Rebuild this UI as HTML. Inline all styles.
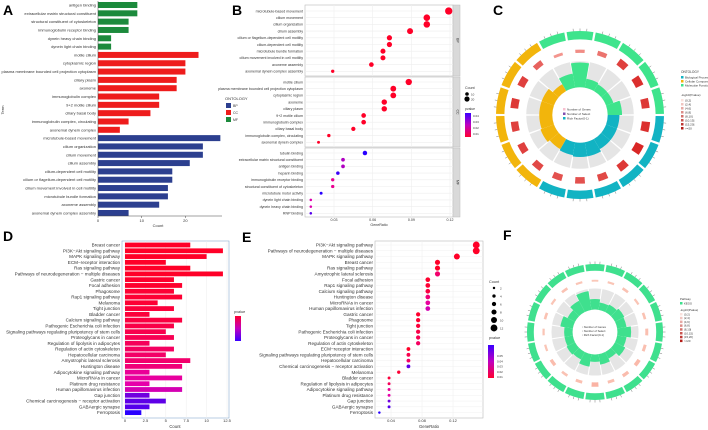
<!DOCTYPE html>
<html><head><meta charset="utf-8">
<style>
html,body{margin:0;padding:0;background:#fff;}
svg{display:block;font-family:"Liberation Sans",sans-serif;}
</style></head>
<body>
<svg id="fig" width="708" height="430" viewBox="0 0 708 430" xmlns="http://www.w3.org/2000/svg">
<text x="3" y="15" font-size="14" font-weight="bold">A</text>
<text x="232" y="15" font-size="14" font-weight="bold">B</text>
<text x="493" y="15" font-size="14" font-weight="bold">C</text>
<text x="3" y="241" font-size="14" font-weight="bold">D</text>
<text x="242" y="242" font-size="14" font-weight="bold">E</text>
<text x="503" y="240" font-size="14" font-weight="bold">F</text>
</svg>
<script>
// ---------- Panel A data ----------
const aTerms=["antigen binding","extracellular matrix structural constituent","structural constituent of cytoskeleton","immunoglobulin receptor binding","dynein heavy chain binding","dynein light chain binding","motile cilium","cytoplasmic region","plasma membrane bounded cell projection cytoplasm","ciliary plasm","axoneme","immunoglobulin complex","9+2 motile cilium","ciliary basal body","immunoglobulin complex, circulating","axonemal dynein complex","microtubule-based movement","cilium organization","cilium movement","cilium assembly","cilium-dependent cell motility","cilium or flagellum-dependent cell motility","cilium movement involved in cell motility","microtubule bundle formation","axoneme assembly","axonemal dynein complex assembly"];
const aCounts=[9,9,7,7,3,3,23,20,20,18,18,14,14,12,7,5,28,24,24,21,17,17,16,16,14,7];
const aOnt=["MF","MF","MF","MF","MF","MF","CC","CC","CC","CC","CC","CC","CC","CC","CC","CC","BP","BP","BP","BP","BP","BP","BP","BP","BP","BP"];
const aTicks=[0,10,20];
// ---------- Panel B data ----------
const bTerms=["microtubule-based movement","cilium movement","cilium organization","cilium assembly","cilium or flagellum-dependent cell motility","cilium-dependent cell motility","microtubule bundle formation","cilium movement involved in cell motility","axoneme assembly","axonemal dynein complex assembly","motile cilium","plasma membrane bounded cell projection cytoplasm","cytoplasmic region","axoneme","ciliary plasm","9+2 motile cilium","immunoglobulin complex","ciliary basal body","immunoglobulin complex, circulating","axonemal dynein complex","tubulin binding","extracellular matrix structural constituent","antigen binding","heparin binding","immunoglobulin receptor binding","structural constituent of cytoskeleton","microtubule motor activity","dynein light chain binding","dynein heavy chain binding","RNP binding"];
const bRatio=[0.119,0.102,0.102,0.089,0.073,0.073,0.068,0.068,0.059,0.029,0.088,0.076,0.076,0.069,0.069,0.053,0.053,0.045,0.026,0.018,0.054,0.037,0.037,0.033,0.029,0.029,0.020,0.012,0.012,0.012];
const bCount=[28,24,24,21,17,17,16,16,14,7,23,20,20,18,18,14,14,12,7,5,13,9,9,8,7,7,5,3,3,3];
const bP=[0.005,0.005,0.005,0.005,0.005,0.005,0.005,0.005,0.005,0.008,0.005,0.005,0.005,0.005,0.005,0.005,0.005,0.005,0.008,0.008,0.05,0.035,0.035,0.048,0.025,0.025,0.05,0.03,0.03,0.045];
const bFacet=["BP","CC","MF"];
const bTicks=[0.03,0.06,0.09,0.12];
// ---------- Panel D / E data ----------
const dTerms=["Breast cancer","PI3K−Akt signaling pathway","MAPK signaling pathway","ECM−receptor interaction","Ras signaling pathway","Pathways of neurodegeneration − multiple diseases","Gastric cancer","Focal adhesion","Phagosome","Rap1 signaling pathway","Melanoma","Tight junction","Bladder cancer","Calcium signaling pathway","Pathogenic Escherichia coli infection","Signaling pathways regulating pluripotency of stem cells","Proteoglycans in cancer","Regulation of lipolysis in adipocytes","Regulation of actin cytoskeleton","Hepatocellular carcinoma","Amyotrophic lateral sclerosis","Huntington disease","Adipocytokine signaling pathway","MicroRNAs in cancer","Platinum drug resistance","Human papillomavirus infection","Gap junction","Chemical carcinogenesis − receptor activation","GABAergic synapse","Ferroptosis"];
const dCounts=[8,12,10,5,8,12,6,7,6,7,4,6,3,7,6,5,6,3,6,5,8,7,3,7,3,7,3,5,3,2];
const dP=[0.004,0.006,0.006,0.008,0.008,0.008,0.009,0.009,0.010,0.010,0.010,0.011,0.011,0.012,0.013,0.014,0.015,0.016,0.017,0.018,0.019,0.021,0.026,0.027,0.029,0.031,0.042,0.044,0.045,0.05];
const dTicks=[0,2.5,5,7.5,10,12.5];
const eTerms=["PI3K−Akt signaling pathway","Pathways of neurodegeneration − multiple diseases","MAPK signaling pathway","Breast cancer","Ras signaling pathway","Amyotrophic lateral sclerosis","Focal adhesion","Rap1 signaling pathway","Calcium signaling pathway","Huntington disease","MicroRNAs in cancer","Human papillomavirus infection","Gastric cancer","Phagosome","Tight junction","Pathogenic Escherichia coli infection","Proteoglycans in cancer","Regulation of actin cytoskeleton","ECM−receptor interaction","Signaling pathways regulating pluripotency of stem cells","Hepatocellular carcinoma","Chemical carcinogenesis − receptor activation","Melanoma","Bladder cancer","Regulation of lipolysis in adipocytes","Adipocytokine signaling pathway","Platinum drug resistance","Gap junction","GABAergic synapse","Ferroptosis"];
const eRatio=[0.150,0.150,0.125,0.100,0.100,0.100,0.0875,0.0875,0.0875,0.0875,0.0875,0.0875,0.075,0.075,0.075,0.075,0.075,0.075,0.0625,0.0625,0.0625,0.0625,0.05,0.0375,0.0375,0.0375,0.0375,0.0375,0.0375,0.025];
const eTicks=[0.04,0.08,0.12];
// ---------- Circle plots data ----------
const cOnt=["MF","MF","MF","MF","MF","MF","BP","BP","BP","BP","BP","BP","CC","CC","CC","CC","CC","CC"];
const cBar=[0.55,0.95,0.35,0.3,0.3,0.55,0.45,0.45,0.45,0.55,0.55,0.5,0.45,0.55,0.5,0.5,0.5,0.3];
const cRect=[0.3,0.35,0.5,0.8,0.9,0.85,0.9,0.95,0.85,0.75,0.7,0.7,0.75,0.8,0.8,0.85,0.8,0.6];
const fBar=[0.5,0.35,0.4,0.5,0.45,0.65,0.45,0.55,0.35,0.5,0.35,0.6,0.4,0.45,0.4,0.4,0.6,0.4,0.6,0.9];
const fRect=[0.25,0.3,0.35,0.3,0.35,0.4,0.4,0.5,0.45,0.4,0.6,0.4,0.35,0.45,0.3,0.3,0.35,0.3,0.35,0.3];

const NS='http://www.w3.org/2000/svg';
const svg=document.getElementById('fig');
function mk(tag,attrs,parent){const e=document.createElementNS(NS,tag);for(const k in attrs)e.setAttribute(k,attrs[k]);(parent||svg).appendChild(e);return e;}
function txt(x,y,s,size,anchor,parent,extra){const t=mk('text',Object.assign({x:x,y:y,'font-size':size,'text-anchor':anchor||'start',fill:'#333'},extra||{}),parent);t.textContent=s;return t;}
function pcol(p){
 let t=Math.max(0,Math.min(1,(p-0.008)/0.042));
 let r,b;
 if(t<0.5){const u=t/0.5;r=255-25*u;b=40+130*u;}else{const u=(t-0.5)/0.5;r=230-190*u;b=170+85*u;}
 return 'rgb('+Math.round(r)+',0,'+Math.round(b)+')';
}
const ontCol={BP:'#2c3f8f',CC:'#ee1c1c',MF:'#1c8a3c'};

// ===== Panel A =====
(function(){
 const g=mk('g',{});
 
 
 const x0=98,sx=4.37,y0=5,dy=8.32;
 const xs=v=>x0+v*sx, ys=i=>y0+i*dy;
 aTerms.forEach((t,i)=>{
  const r=mk('rect',{x:x0,y:ys(i)-3,width:xs(aCounts[i])-x0,height:6,fill:ontCol[aOnt[i]]},g);
  
  
  const l=txt(x0-2,ys(i)+1.5,t,4,'end',g);
  
  
 });
 mk('line',{x1:x0,y1:1,x2:x0,y2:216,stroke:'#444','stroke-width':0.5},g);
 mk('line',{x1:x0,y1:216,x2:222,y2:216,stroke:'#444','stroke-width':0.5},g);
 aTicks.forEach(v=>{mk('line',{x1:xs(v),y1:216,x2:xs(v),y2:218,stroke:'#444','stroke-width':0.5},g);const t=txt(xs(v),222,String(v),4,'middle',g);});
 const xt=txt(158,227,'Count',4,'middle',g);
 
 
 const yt=txt(4,110,'Term',4,'middle',g,{transform:'rotate(-90 4 110)'});
 
 
 const lg=mk('g',{},g);
 
 
 txt(225,100,'ONTOLOGY',4,'start',lg);
 ['BP','CC','MF'].forEach((o,i)=>{mk('rect',{x:226,y:103+i*7,width:5,height:5,fill:ontCol[o]},lg);txt(233,107+i*7,o,3.5,'start',lg);});
})();

// ===== Panel B =====
(function(){
 const g=mk('g',{});
 
 
 const px0=305,px1=453;
 const xs=v=>334+(v-0.03)*(116/0.09);
 const facets=[[5,76],[77,147],[148,217]];
 facets.forEach((f,k)=>{
  mk('rect',{x:px0,y:f[0],width:px1-px0,height:f[1]-f[0],fill:'#fff',stroke:'#bbb','stroke-width':0.6},g);
  bTicks.forEach(v=>mk('line',{x1:xs(v),y1:f[0],x2:xs(v),y2:f[1],stroke:'#eee','stroke-width':0.6},g));
  const s=mk('rect',{x:px1,y:f[0],width:7,height:f[1]-f[0],fill:'#d9d9d9',stroke:'#bbb','stroke-width':0.5},g);
  
  
  txt(px1+3.5,(f[0]+f[1])/2,bFacet[k],3.5,'middle',g,{transform:'rotate(90 '+(px1+3.5)+' '+((f[0]+f[1])/2)+')'});
 });
 const rowY=i=>{const k=Math.floor(i/10),j=i%10;return [11,82,153][k]+j*6.7;};
 bTerms.forEach((t,i)=>{
  const y=rowY(i);
  mk('line',{x1:px0,y1:y,x2:px1,y2:y,stroke:'#eee','stroke-width':0.6},g);
  const c=mk('circle',{cx:xs(bRatio[i]),cy:y,r:1+bCount[i]*0.095,fill:pcol(bP[i])},g);
  
  
  const l=txt(px0-2,y+1.3,t,3.6,'end',g);
  
  
 });
 bTicks.forEach(v=>{const t=txt(xs(v),221,v.toFixed(2),3.6,'middle',g);});
 const xt=txt(379,226,'GeneRatio',3.6,'middle',g);
 
 
 const lg=mk('g',{},g);
 
 
 txt(465,89,'Count',3.6,'start',lg);
 mk('circle',{cx:467,cy:94,r:1.8,fill:'#000'},lg);txt(471,95.5,'10',3,'start',lg);
 mk('circle',{cx:467,cy:99,r:2.6,fill:'#000'},lg);txt(471,100.5,'20',3,'start',lg);
 txt(465,110,'pvalue',3.4,'start',lg);
 const gr=mk('linearGradient',{id:'gB',x1:0,y1:0,x2:0,y2:1},mk('defs',{},lg));
 mk('stop',{offset:0,'stop-color':'#3a00ff'},gr);mk('stop',{offset:0.5,'stop-color':'#c000c0'},gr);mk('stop',{offset:1,'stop-color':'#ff0030'},gr);
 mk('rect',{x:465,y:113,width:6,height:24,fill:'url(#gB)'},lg);
 ['0.04','0.03','0.02','0.01'].forEach((s,i)=>txt(473,117+i*6,s,3,'start',lg));
})();

// ===== Panel D =====
(function(){
 const g=mk('g',{});
 
 
 const x0=125,sx=102/12.5,y0=245,dy=5.78;
 const xs=v=>x0+v*sx, ys=i=>y0+i*dy;
 mk('rect',{x:122,y:241,width:107,height:177,fill:'#fff',stroke:'#8aaed0','stroke-width':0.6},g);
 dTicks.forEach(v=>mk('line',{x1:xs(v),y1:241,x2:xs(v),y2:418,stroke:'#eee','stroke-width':0.5},g));
 dTerms.forEach((t,i)=>{
  const r=mk('rect',{x:x0,y:ys(i)-2.4,width:xs(dCounts[i])-x0,height:4.8,fill:pcol(dP[i])},g);
  
  
  const l=txt(120,ys(i)+1.6,t,4.6,'end',g);
  
  
 });
 dTicks.forEach(v=>{const t=txt(xs(v),422,String(v),4,'middle',g);});
 const xt=txt(175,428,'Count',4.2,'middle',g);
 
 
 const lg=mk('g',{},g);
 
 
 txt(234,313,'pvalue',3.8,'start',lg);
 const gr=mk('linearGradient',{id:'gD',x1:0,y1:0,x2:0,y2:1},mk('defs',{},lg));
 mk('stop',{offset:0,'stop-color':'#ff0030'},gr);mk('stop',{offset:0.5,'stop-color':'#c000c0'},gr);mk('stop',{offset:1,'stop-color':'#3a00ff'},gr);
 mk('rect',{x:235,y:316,width:6,height:25,fill:'url(#gD)'},lg);
})();

// ===== Panel E =====
(function(){
 const g=mk('g',{});
 
 
 const xs=v=>391+(v-0.04)*(62/0.08);
 const y0=245,dy=5.78, ys=i=>y0+i*dy;
 mk('rect',{x:375,y:241,width:108,height:177,fill:'#fff',stroke:'#bbb','stroke-width':0.6},g);
 eTicks.forEach(v=>mk('line',{x1:xs(v),y1:241,x2:xs(v),y2:418,stroke:'#eee','stroke-width':0.5},g));
 eTerms.forEach((t,i)=>{
  const k=dTerms.indexOf(t);
  const cnt=dCounts[k], p=dP[k];
  mk('line',{x1:375,y1:ys(i),x2:483,y2:ys(i),stroke:'#f0f0f0','stroke-width':0.5},g);
  const c=mk('circle',{cx:xs(eRatio[i]),cy:ys(i),r:0.8+cnt*0.22,fill:pcol(p)},g);
  
  
  const l=txt(373,ys(i)+1.6,t,4.6,'end',g);
  
  
 });
 eTicks.forEach(v=>{const t=txt(xs(v),422,v.toFixed(2),4,'middle',g);});
 const xt=txt(429,428,'GeneRatio',4.2,'middle',g);
 
 
 const lg=mk('g',{},g);
 
 
 txt(489,283,'Count',3.8,'start',lg);
 [2,4,6,8,10,12].forEach((v,i)=>{mk('circle',{cx:494,cy:288+i*8,r:0.8+v*0.22,fill:'#000'},lg);txt(500,289.5+i*8,String(v),3,'start',lg);});
 txt(489,339,'pvalue',3.8,'start',lg);
 const gr=mk('linearGradient',{id:'gE',x1:0,y1:0,x2:0,y2:1},mk('defs',{},lg));
 mk('stop',{offset:0,'stop-color':'#3a00ff'},gr);mk('stop',{offset:0.5,'stop-color':'#c000c0'},gr);mk('stop',{offset:1,'stop-color':'#ff0030'},gr);
 mk('rect',{x:488,y:345,width:6,height:33,fill:'url(#gE)'},lg);
 ['0.05','0.04','0.03','0.02','0.01'].forEach((s,i)=>txt(497,357+i*5.3,s,3,'start',lg));
})();

// ===== Circle plots =====
function arc(cx,cy,r0,r1,a0,a1){
 const p=(r,a)=>[cx+r*Math.sin(a*Math.PI/180),cy-r*Math.cos(a*Math.PI/180)];
 const [x1,y1]=p(r1,a0),[x2,y2]=p(r1,a1),[x3,y3]=p(r0,a1),[x4,y4]=p(r0,a0);
 const lf=(a1-a0)>180?1:0;
 return 'M'+x1+' '+y1+' A'+r1+' '+r1+' 0 '+lf+' 1 '+x2+' '+y2+' L'+x3+' '+y3+' A'+r0+' '+r0+' 0 '+lf+' 0 '+x4+' '+y4+'Z';
}
function circlePlot(name,cx,cy,R,n,start,colors,bars,rects,rectCol){
 const g=mk('g',{});
 
 
 const step=360/n, ri=R*0.33, rg=R*0.64;
 for(let i=0;i<n;i++){
  const a0=start+i*step+0.8,a1=start+(i+1)*step-0.8;
  const s=mk('path',{d:arc(cx,cy,R*0.9,R,a0,a1),fill:colors[i]},g);
  
  
  for(let k=1;k<4;k++){const a=(a0+(a1-a0)*k/4)*Math.PI/180;mk('line',{x1:cx+R*Math.sin(a),y1:cy-R*Math.cos(a),x2:cx+(R+2.5)*Math.sin(a),y2:cy-(R+2.5)*Math.cos(a),stroke:'#555','stroke-width':0.4},g);}
  const rr=mk('path',{d:arc(cx,cy,R*0.74,R*0.74+R*0.11*rects[i],a0+step*0.25,a1-step*0.25),fill:rectCol(rects[i])},g);
  
  
  mk('path',{d:arc(cx,cy,ri,rg,a0,a1),fill:'#e5e5e5'},g);
  const b=mk('path',{d:arc(cx,cy,ri,ri+(rg-ri)*bars[i],a0-0.8,a1+0.8),fill:colors[i]},g);
  
  
 }
 return g;
}
const oc={MF:'#3ee48c',BP:'#12b3c3',CC:'#f2b50c'};
const gc=circlePlot('go-circle-plot',580,115,84,18,-30,cOnt.map(o=>oc[o]),cBar,cRect,v=>'rgb('+Math.round(255-40*v)+','+Math.round(200-170*v)+','+Math.round(190-160*v)+')');
['Number of Genes','Number of Select','Rich Factor(0-1)'].forEach((s,i)=>{mk('rect',{x:563,y:108+i*4.5,width:2.5,height:2.5,fill:['#f8c0d0','#8050b0','#12b3c3'][i]},gc);txt(567,110.3+i*4.5,s,3,'start',gc);});
(function(){
 const lg=mk('g',{});
 
 
 txt(681,73,'ONTOLOGY',3.2,'start',lg);
 [['Biological Process',oc.BP],['Cellular Component',oc.CC],['Molecular Function',oc.MF]].forEach((e,i)=>{mk('rect',{x:681,y:76+i*4,width:2.5,height:2.5,fill:e[1]},lg);txt(685,78.3+i*4,e[0],3,'start',lg);});
 txt(681,96,'-log10(Pvalue)',3,'start',lg);
 ['(0,2]','(2,4]','(4,6]','(6,8]','(8,10]','(10,15]','(15,20]','>=20'].forEach((s,i)=>{mk('rect',{x:681,y:99+i*4,width:2.5,height:2.5,fill:'rgb('+(250-i*10)+','+(225-i*28)+','+(220-i*28)+')'},lg);txt(685,101.3+i*4,s,3,'start',lg);});
})();
const fc=new Array(20).fill('#3fe08e');
const gf=circlePlot('kegg-circle-plot',595,332,68,20,-9,fc,fBar,fRect,v=>'rgb(250,'+Math.round(215-60*v)+','+Math.round(200-60*v)+')');
['Number of Genes','Number of Select','Rich Factor(0-1)'].forEach((s,i)=>txt(582,328+i*4,'▫ '+s,2.8,'start',gf));
(function(){
 const lg=mk('g',{});
 
 
 txt(680,300,'Pathway',2.8,'start',lg);
 mk('rect',{x:680,y:302,width:2.5,height:2.5,fill:'#3fe08e'},lg);txt(684,304.3,'KEGG',2.8,'start',lg);
 txt(680,311,'-log10(Pvalue)',2.8,'start',lg);
 ['(0,2]','(2,4]','(4,6]','(6,8]','(8,10]','(10,15]','(15,20]','>=20'].forEach((s,i)=>{mk('rect',{x:680,y:313+i*3.8,width:2.5,height:2.5,fill:'rgb('+(250-i*10)+','+(225-i*28)+','+(220-i*28)+')'},lg);txt(684,315.3+i*3.8,s,2.8,'start',lg);});
})();
</script>
</body></html>
